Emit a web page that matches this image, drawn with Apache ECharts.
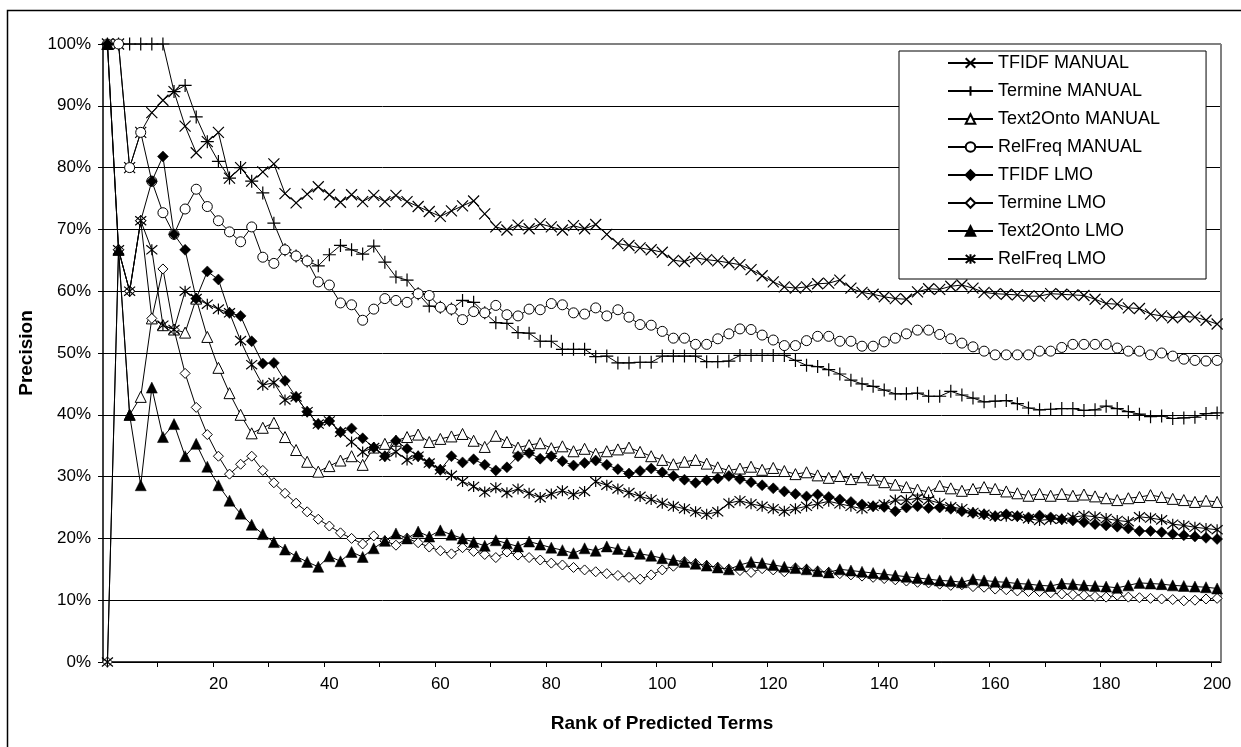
<!DOCTYPE html>
<html>
<head>
<meta charset="utf-8">
<script src="https://cdn.jsdelivr.net/npm/echarts@6/dist/echarts.min.js"></script>
<style>
html,body{margin:0;padding:0;background:#fff;}
#c{width:1241px;height:747px;}
</style>
</head>
<body>
<div id="c"></div>
<script>
// Rank of predicted terms (x values of the points)
const ranks = [
  1,3,5,7,9,11,13,15,17,19,
  21,23,25,27,29,31,33,35,37,39,
  41,43,45,47,49,51,53,55,57,59,
  61,63,65,67,69,71,73,75,77,79,
  81,83,85,87,89,91,93,95,97,99,
  101,103,105,107,109,111,113,115,117,119,
  121,123,125,127,129,131,133,135,137,139,
  141,143,145,147,149,151,153,155,157,159,
  161,163,165,167,169,171,173,175,177,179,
  181,183,185,187,189,191,193,195,197,199,
  201
];

// Axis tick / label definitions
const xTickValues = [10,20,30,40,50,60,70,80,90,100,110,120,130,140,150,160,170,180,190,200];
const xLabelPositions = [21,41,61,81,101,121,141,161,181,201];
const xLabels = ['20','40','60','80','100','120','140','160','180','200'];

// Precision values (%)
const tfidfManual = [
  100,100,80,85.7,88.9,90.9,92.3,86.7,82.4,84.2,
  85.7,78.3,80,77.8,79.3,80.6,75.8,74.3,75.7,76.9,
  75.6,74.4,75.6,74.5,75.5,74.5,75.5,74.5,73.7,72.9,
  72.1,73.0,73.8,74.6,72.5,70.4,69.9,70.7,70.1,70.9,
  70.4,69.9,70.6,70.1,70.8,69.2,67.7,67.4,67.0,66.7,
  66.3,65.0,64.8,65.4,65.1,64.9,64.6,64.3,63.5,62.5,
  61.5,60.7,60.5,60.7,61.2,61.3,61.8,60.5,59.8,59.5,
  59.1,58.8,58.7,59.9,60.4,60.3,60.8,61.0,60.5,59.8,
  59.6,59.5,59.4,59.2,59.2,59.6,59.5,59.4,59.3,58.7,
  58.0,57.9,57.3,57.2,56.3,56.0,55.7,55.9,55.8,55.3,
  54.7
];
const termineManual = [
  100,100,100,100,100,100,92.3,93.3,88.2,84.2,
  81.0,78.3,80.0,77.8,75.9,71.0,66.7,65.7,64.9,64.1,
  65.9,67.4,66.7,66.0,67.3,64.7,62.3,61.8,59.6,57.6,
  57.4,57.1,58.5,58.2,56.5,54.9,54.8,53.3,53.2,51.9,
  51.9,50.6,50.6,50.6,49.4,49.5,48.4,48.4,48.5,48.5,
  49.5,49.5,49.5,49.5,48.6,48.6,48.7,49.6,49.6,49.6,
  49.6,49.6,48.8,48.0,47.8,47.3,46.6,45.6,45.0,44.6,
  44.0,43.4,43.4,43.5,43.0,43.0,43.8,43.2,42.7,42.1,
  42.2,42.3,41.8,41.1,40.8,40.9,41.0,41.0,40.7,40.8,
  41.4,41.0,40.5,40.1,39.7,39.8,39.4,39.5,39.6,40.2,
  40.3
];
const text2ontoManual = [
  100,66.7,40,42.9,55.6,54.5,53.8,53.3,58.8,52.6,
  47.6,43.5,40.0,37.0,37.9,38.7,36.4,34.3,32.4,30.8,
  31.7,32.6,33.3,31.9,34.7,35.3,35.8,36.4,36.8,35.6,
  36.1,36.5,36.9,35.8,34.8,36.6,35.6,34.7,35.1,35.4,
  34.6,34.9,34.1,34.5,33.7,34.1,34.4,34.7,34.0,33.3,
  32.7,32.0,32.4,32.7,32.1,31.5,31.0,31.3,31.6,31.1,
  31.4,30.9,30.4,30.7,30.2,29.8,30.1,29.6,29.9,29.5,
  29.1,28.7,28.3,27.9,27.5,28.5,28.1,27.7,28.0,28.3,
  28.0,27.6,27.3,26.9,27.2,26.9,27.2,26.9,27.1,26.8,
  26.5,26.2,26.5,26.7,27.0,26.7,26.4,26.2,25.9,26.1,
  25.9
];
const relfreqManual = [
  100,100,80,85.7,77.8,72.7,69.2,73.3,76.5,73.7,
  71.4,69.6,68.0,70.4,65.5,64.5,66.7,65.7,64.9,61.5,
  61.0,58.1,57.8,55.3,57.1,58.8,58.5,58.2,59.6,59.3,
  57.4,57.1,55.4,56.7,56.5,57.7,56.2,56.0,57.1,57.0,
  58.0,57.8,56.5,56.3,57.3,56.0,57.0,55.8,54.6,54.5,
  53.5,52.4,52.4,51.4,51.4,52.3,53.1,53.9,53.8,52.9,
  52.1,51.2,51.2,52.0,52.7,52.7,51.9,51.9,51.1,51.1,
  51.8,52.4,53.1,53.7,53.7,53.0,52.3,51.6,51.0,50.3,
  49.7,49.7,49.7,49.7,50.3,50.3,50.9,51.4,51.4,51.4,
  51.4,50.8,50.3,50.3,49.7,50.0,49.5,49.0,48.8,48.7,
  48.8
];
const tfidfLmo = [
  100,66.7,60,71.4,77.8,81.8,69.2,66.7,58.8,63.2,
  61.9,56.5,56.0,51.9,48.3,48.4,45.5,42.9,40.5,38.5,
  39.0,37.2,37.8,36.2,34.7,33.3,35.8,34.5,33.3,32.2,
  31.1,33.3,32.3,32.8,31.9,31.0,31.5,33.3,33.8,32.9,
  33.3,32.5,31.8,32.2,32.6,31.9,31.2,30.5,30.9,31.3,
  30.7,30.1,29.5,29.0,29.4,29.7,30.1,29.6,29.1,28.6,
  28.1,27.6,27.2,26.8,27.1,26.7,26.3,25.9,25.5,25.2,
  25.1,24.4,25.0,25.2,24.9,25.0,24.8,24.4,24.1,23.9,
  23.6,23.9,23.6,23.4,23.7,23.4,23.1,22.9,22.6,22.3,
  22.1,21.9,21.6,21.2,21.2,21.0,20.7,20.5,20.3,20.1,
  19.9
];
const termineLmo = [
  0,66.7,60,71.4,55.6,63.6,53.8,46.7,41.2,36.8,
  33.3,30.4,32.0,33.3,31.0,29.0,27.3,25.7,24.3,23.1,
  22.0,20.9,20.0,19.1,20.4,19.6,18.9,20.0,19.3,18.6,
  18.0,17.5,18.5,17.9,17.4,16.9,17.8,17.3,16.9,16.5,
  16.0,15.7,15.3,14.9,14.6,14.3,14.0,13.7,13.4,14.1,
  14.9,15.5,16.2,15.9,15.6,15.3,15.0,14.8,14.5,15.1,
  14.9,14.6,15.2,15.0,14.7,14.5,14.3,14.1,13.9,13.7,
  13.5,13.3,13.1,12.9,12.8,12.6,12.4,12.5,12.2,12.1,
  11.8,11.7,11.5,11.4,11.4,11.2,11.0,10.9,10.8,10.6,
  10.5,10.8,10.5,10.4,10.3,10.2,10.1,9.9,10.0,10.2,
  10.3
];
const text2ontoLmo = [
  100,66.7,40,28.6,44.4,36.4,38.5,33.3,35.3,31.6,
  28.6,26.1,24.0,22.2,20.7,19.4,18.2,17.1,16.2,15.4,
  17.1,16.3,17.8,17.0,18.4,19.6,20.8,20.0,21.1,20.3,
  21.3,20.6,20.0,19.4,18.8,19.7,19.2,18.7,19.5,19.0,
  18.5,18.1,17.6,18.4,18.0,18.7,18.3,17.9,17.5,17.2,
  16.8,16.5,16.2,15.9,15.6,15.3,15.0,15.7,16.2,16.0,
  15.7,15.4,15.2,15.0,14.7,14.5,15.0,14.8,14.6,14.4,
  14.2,14.0,13.8,13.6,13.4,13.2,13.1,12.9,13.4,13.2,
  13.0,12.9,12.7,12.6,12.4,12.3,12.7,12.6,12.4,12.3,
  12.2,12.0,12.4,12.8,12.7,12.6,12.4,12.3,12.2,12.1,
  11.9
];
const relfreqLmo = [
  0,66.7,60,71.4,66.7,54.5,53.8,60.0,58.8,57.9,
  57.1,56.5,52.0,48.1,44.8,45.2,42.4,42.9,40.5,38.5,
  39.0,37.2,35.6,34.0,34.7,33.3,34.0,32.7,33.3,32.2,
  31.1,30.2,29.2,28.4,27.5,28.2,27.4,28.0,27.3,26.6,
  27.2,27.7,27.1,27.6,29.2,28.6,28.0,27.4,26.8,26.3,
  25.7,25.2,24.8,24.3,23.9,24.3,25.7,26.1,25.6,25.2,
  24.8,24.4,24.8,25.2,25.6,26.0,25.6,25.2,24.8,25.2,
  25.5,26.2,26.2,26.5,26.2,25.7,25.1,24.8,24.2,23.9,
  23.6,23.6,23.6,23.2,22.9,23.1,23.1,23.4,23.7,23.5,
  23.2,22.9,22.7,23.5,23.3,23.0,22.3,22.1,21.8,21.6,
  21.4
];

const seriesNames = ['TFIDF MANUAL','Termine MANUAL','Text2Onto MANUAL','RelFreq MANUAL',
                     'TFIDF LMO','Termine LMO','Text2Onto LMO','RelFreq LMO'];
const seriesValues = [tfidfManual, termineManual, text2ontoManual, relfreqManual,
                      tfidfLmo, termineLmo, text2ontoLmo, relfreqLmo];

const FONT = 'Liberation Sans, Arial, Helvetica, sans-serif';
const CROSS = 'path://M0,0L10,10M0,10L10,0';
const PLUS = 'path://M5,0L5,10M0,5L10,5';
const STAR = 'path://M0,0L10,10M0,10L10,0M5,-1L5,11';

const markerStyles = [
  {symbol: CROSS, size: 11, fill: '#000', bw: 1.2},
  {symbol: PLUS, size: 13, fill: '#000', bw: 1.2},
  {symbol: 'triangle', size: 11, fill: '#fff', bw: 1},
  {symbol: 'circle', size: 10, fill: '#fff', bw: 1},
  {symbol: 'diamond', size: 11, fill: '#000', bw: 0.5},
  {symbol: 'diamond', size: 10, fill: '#fff', bw: 1},
  {symbol: 'triangle', size: 11, fill: '#000', bw: 0.5},
  {symbol: STAR, size: 11, fill: '#000', bw: 1.2}
];

const series = seriesNames.map((name, k) => ({
  name: name,
  type: 'line',
  data: ranks.map((r, i) => [r, seriesValues[k][i]]),
  symbol: markerStyles[k].symbol,
  symbolSize: markerStyles[k].size,
  showSymbol: true,
  showAllSymbol: true,
  lineStyle: {color: '#000', width: 1},
  itemStyle: {color: markerStyles[k].fill, borderColor: '#000', borderWidth: markerStyles[k].bw},
  emphasis: {disabled: true},
  z: 2 + k
}));

const chart = echarts.init(document.getElementById('c'), null, {renderer: 'canvas'});
chart.setOption({
  animation: false,
  backgroundColor: '#fff',
  grid: {left: 103, top: 44, right: 20, bottom: 85, containLabel: false},
  legend: {
    orient: 'vertical',
    left: 899, top: 51,
    padding: [2, 46, 10, 48],
    itemWidth: 45, itemHeight: 12, itemGap: 8,
    backgroundColor: '#fff', borderColor: '#000', borderWidth: 1,
    selectedMode: false,
    textStyle: {fontFamily: FONT, fontSize: 18, color: '#000', lineHeight: 20},
    data: seriesNames
  },
  xAxis: {
    type: 'value', min: 0.2, max: 201.7,
    name: 'Rank of Predicted Terms', nameLocation: 'middle', nameGap: 52,
    nameTextStyle: {fontFamily: FONT, fontSize: 19, fontWeight: 'bold', color: '#000'},
    axisLine: {show: true, onZero: false, lineStyle: {color: '#000', width: 1.5}},
    axisTick: {show: true, inside: false, length: 5, customValues: xTickValues, lineStyle: {color: '#000', width: 1}},
    axisLabel: {
      show: true, customValues: xLabelPositions,
      formatter: (v) => xLabels[xLabelPositions.indexOf(Math.round(v))] || '',
      fontFamily: FONT, fontSize: 17, color: '#000', margin: 14
    },
    splitLine: {show: false}
  },
  yAxis: {
    type: 'value', min: 0, max: 100, interval: 10,
    name: 'Precision', nameLocation: 'middle', nameGap: 64, nameRotate: 90,
    nameTextStyle: {fontFamily: FONT, fontSize: 19, fontWeight: 'bold', color: '#000'},
    axisLine: {show: true, lineStyle: {color: '#000', width: 1.5}},
    axisTick: {show: true, inside: false, length: 5, lineStyle: {color: '#000', width: 1}},
    axisLabel: {formatter: '{value}%', fontFamily: FONT, fontSize: 17, color: '#000', margin: 12},
    splitLine: {show: true, lineStyle: {color: '#000', width: 1}}
  },
  graphic: [
    {type: 'rect', silent: true, z: -10, shape: {x: 7.5, y: 10.5, width: 1400, height: 900},
     style: {fill: 'none', stroke: '#000', lineWidth: 1.5}},
    {type: 'line', silent: true, z: 1, shape: {x1: 103, y1: 44, x2: 1221, y2: 44},
     style: {stroke: '#808080', lineWidth: 2}},
    {type: 'line', silent: true, z: 1, shape: {x1: 1221, y1: 44, x2: 1221, y2: 662},
     style: {stroke: '#808080', lineWidth: 2}}
  ],
  series: series
});
</script>
</body>
</html>
